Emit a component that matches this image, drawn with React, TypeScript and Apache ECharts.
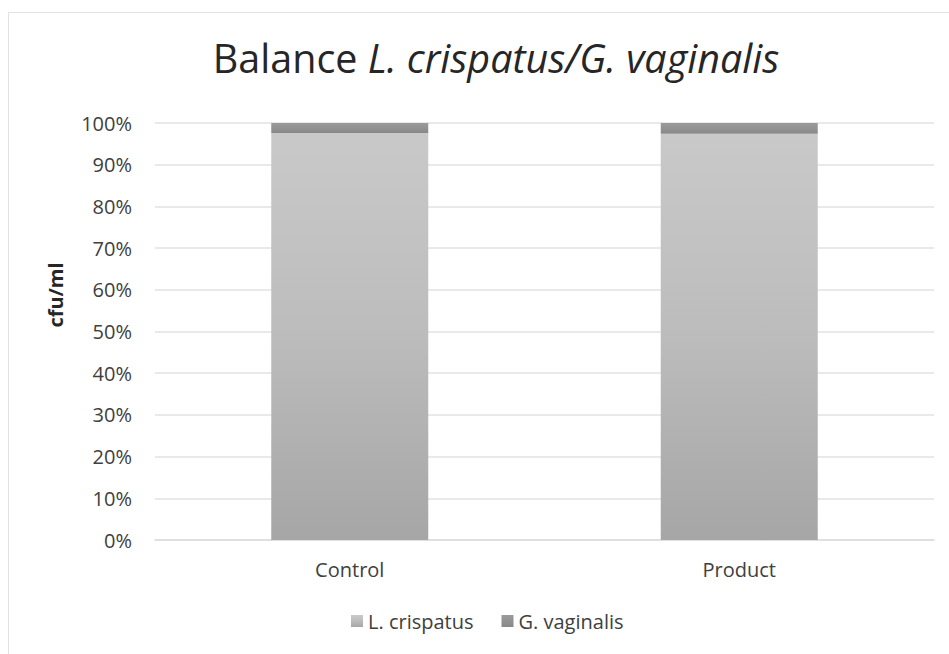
import React, { useEffect, useRef } from "react";
import * as echarts from "echarts";

const categories = ["Control", "Product"];
const seriesNames = ["L. crispatus", "G. vaginalis"];
const crispatusValues = [97.6, 97.4];
const vaginalisValues = [2.4, 2.6];
const yTicks = { min: 0, max: 100, interval: 10 };
const yAxisTitle = "cfu/ml";

const FONT = "'Open Sans', 'Noto Sans', sans-serif";

export default function App() {
  const ref = useRef<HTMLDivElement>(null);
  useEffect(() => {
    if (!ref.current) return;
    const chart = echarts.init(ref.current, null, { renderer: "svg" });
    const grad = (a: string, b: string, c: string) =>
      new echarts.graphic.LinearGradient(0, 0, 0, 1, [
        { offset: 0, color: a },
        { offset: 0.5, color: b },
        { offset: 1, color: c },
      ]);
    chart.setOption({
      animation: false,
      backgroundColor: "#ffffff",
      textStyle: { fontFamily: FONT },
      title: {
        text: "{a|Balance }{b|L. crispatus/G. vaginalis}",
        left: 491,
        top: 33,
        textAlign: "center",
        textStyle: {
          rich: {
            a: { fontFamily: FONT, fontSize: 39.5, color: "#262626", fontWeight: "normal" },
            b: { fontFamily: FONT, fontSize: 39.5, color: "#262626", fontStyle: "italic", fontWeight: "normal" },
          },
        },
      },
      graphic: [
        {
          type: "rect",
          shape: { x: 8.5, y: 12.5, width: 1000, height: 800 },
          style: { fill: "none", stroke: "#dfe2e6", lineWidth: 1 },
          silent: true,
          z: -1,
        },
        {
          type: "text",
          x: 55,
          y: 295,
          rotation: Math.PI / 2,
          style: {
            text: yAxisTitle,
            fontFamily: FONT,
            fontSize: 20,
            fontWeight: "bold",
            fill: "#262626",
            align: "center",
            verticalAlign: "middle",
          },
          silent: true,
        },
      ],
      legend: {
        data: seriesNames,
        top: 606,
        left: 346,
        itemWidth: 12,
        itemHeight: 12,
        itemGap: 28,
        icon: "rect",
        textStyle: { fontFamily: FONT, fontSize: 20, color: "#404040" },
      },
      grid: { left: 155, right: 15, top: 123, bottom: 114, containLabel: false },
      xAxis: {
        type: "category",
        data: categories,
        axisLine: { show: true, lineStyle: { color: "#d9dde2", width: 1.5 } },
        axisTick: { show: false },
        axisLabel: { fontFamily: FONT, fontSize: 20, color: "#404040", margin: 19 },
      },
      yAxis: {
        type: "value",
        min: yTicks.min,
        max: yTicks.max,
        interval: yTicks.interval,
        axisLine: { show: false },
        axisTick: { show: false },
        axisLabel: { formatter: "{value}%", fontFamily: FONT, fontSize: 20, color: "#404040", margin: 23 },
        splitLine: { lineStyle: { color: "#dfe2e6", width: 1.5 } },
      },
      series: [
        {
          name: seriesNames[0],
          type: "bar",
          stack: "total",
          data: crispatusValues,
          barWidth: 157,
          itemStyle: { color: grad("#c9c9c9", "#bcbcbc", "#a6a6a6") },
        },
        {
          name: seriesNames[1],
          type: "bar",
          stack: "total",
          data: vaginalisValues,
          barWidth: 157,
          itemStyle: { color: grad("#9b9b9b", "#929292", "#888888") },
        },
      ],
    });
    return () => chart.dispose();
  }, []);
  return (
    <div
      ref={ref}
      style={{ position: "fixed", left: 0, top: 0, width: 949, height: 654 }}
    />
  );
}
